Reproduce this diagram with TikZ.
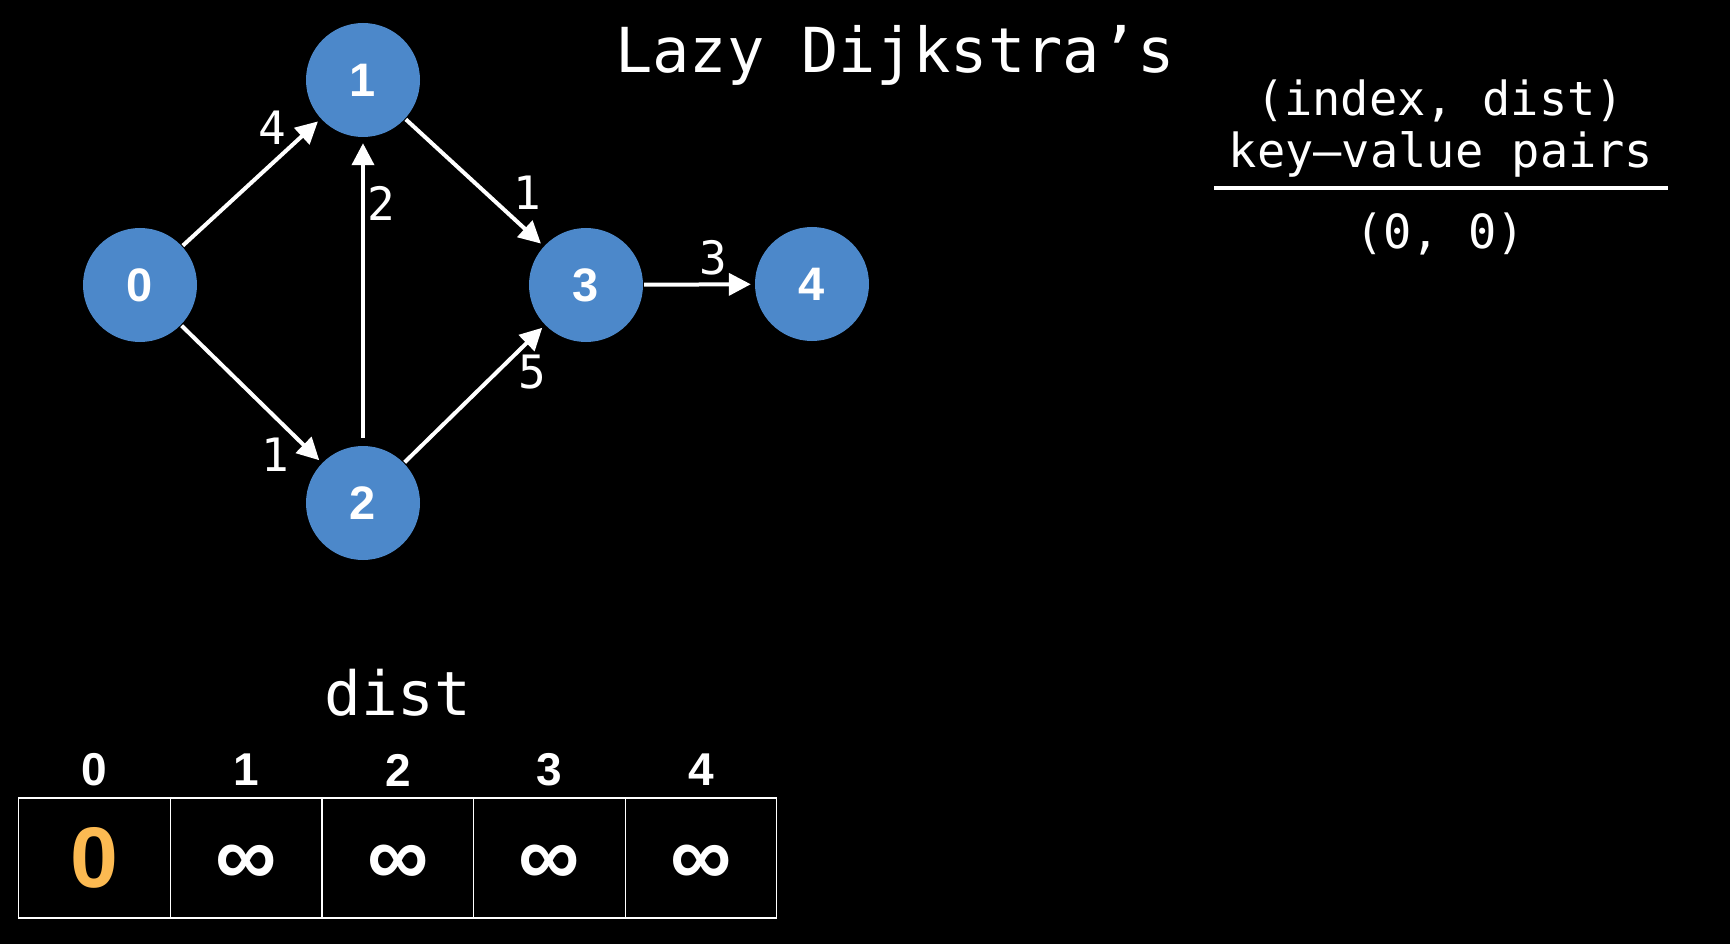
\documentclass[tikz,border=0pt]{standalone}
\usepackage{fontspec}
\setmainfont{Liberation Sans}
\newfontfamily\monof{DejaVu Sans Mono}
\newfontfamily\boldsf{Liberation Sans}
\usetikzlibrary{arrows.meta}
\definecolor{nodeblue}{RGB}{76,136,202}
\definecolor{zeroorange}{RGB}{252,186,82}
\tikzset{
  vert/.style={circle, fill=nodeblue, draw=none, minimum size=114pt, inner sep=0pt,
    text=white, font=\boldsf\bfseries\fontsize{47}{52}\selectfont},
  edge/.style={draw=white, line width=4pt, -{Triangle[length=22pt,width=22pt]}, shorten >=4pt, shorten <=1pt},
  wlabel/.style={text=white, font=\monof\fontsize{46}{52}\selectfont, inner sep=0pt},
  idx/.style={text=white, font=\boldsf\bfseries\fontsize{46}{52}\selectfont, inner sep=0pt},
  cell/.style={draw=white, line width=1.3pt, minimum width=151.6pt, minimum height=120pt, inner sep=0pt, outer sep=0pt,
    font=\boldsf\bfseries\fontsize{86}{92}\selectfont, text=white},
  infval/.style={text=white, inner sep=0pt, font=\boldsf\bfseries\fontsize{86}{92}\selectfont},
  mono/.style={text=white, inner sep=0pt},
}
\begin{document}
\begin{tikzpicture}[x=1pt,y=-1pt]
\fill[black] (0,0) rectangle (1730,944);
\useasboundingbox (0,0) rectangle (1730,944);
% title
\node[mono, font=\monof\fontsize{62}{70}\selectfont] (title) at (895,55) {Lazy Dijkstra’s};
% graph
\node[vert] (n0) at (140,285) {0};
\node[vert] (n1) at (363,80) {1};
\node[vert] (n2) at (363,503) {2};
\node[vert] (n3) at (586,285) {3};
\node[vert] (n4) at (812,284) {4};
\draw[edge] (n0) -- (n1);
\draw[edge] (n0) -- (n2);
\draw[edge, shorten <=8pt, shorten >=6pt] (n2) -- (n1);
\draw[edge] (n1) -- (n3);
\draw[edge] (n2) -- (n3);
\draw[edge] (n3) -- (n4);
\node[wlabel] (l01) at (272,128) {4};
\node[wlabel] (l02) at (275,455) {1};
\node[wlabel] (l21) at (381,203) {2};
\node[wlabel] (l13) at (527,193) {1};
\node[wlabel] (l23) at (532,372) {5};
\node[wlabel] (l34) at (713,258) {3};
% key-value pairs
\node[mono, font=\monof\fontsize{47}{54}\selectfont] (kv1) at (1440,101) {(index, dist)};
\node[mono, font=\monof\fontsize{47}{54}\selectfont] (kv2) at (1441,154) {key–value pairs};
\coordinate (ruleL) at (1214,188);
\coordinate (ruleR) at (1668,188);
\draw[white, line width=4.5pt] (ruleL) -- (ruleR);
\node[mono, font=\monof\fontsize{47}{54}\selectfont] (pq0) at (1440,234) {(0, 0)};
% dist array
\node[mono, font=\monof\fontsize{61}{68}\selectfont] (distlbl) at (398,693) {dist};
\foreach \i in {0,...,4} {
  \node[idx] (i\i) at ({94.6+151.6*\i},770) {\i};
}
\node[cell, text=zeroorange] (c0) at (94.6,858) {0};
\node[cell] (c1) at (246.2,858) {};
\node[cell] (c2) at (397.8,858) {};
\node[cell] (c3) at (549.4,858) {};
\node[cell] (c4) at (701.0,858) {};
\foreach \c in {1,...,4} {
  \node[infval] (v\c) at ([yshift=-7pt]c\c.center) {∞};
}
\end{tikzpicture}
\end{document}
